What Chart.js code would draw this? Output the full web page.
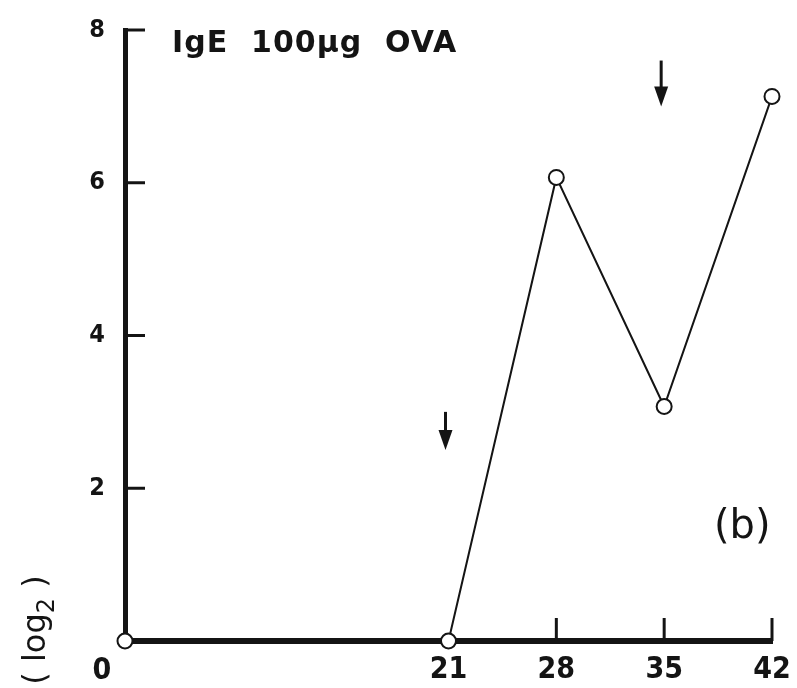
<!DOCTYPE html>
<html>
<head>
<meta charset="utf-8">
<script src="https://cdn.jsdelivr.net/npm/chart.js@4/dist/chart.umd.min.js"></script>
<style>
  html, body { margin: 0; padding: 0; background: #fff; }
  #wrap { width: 797px; height: 688px; }
</style>
</head>
<body>
<div id="wrap"><canvas id="igeChart"></canvas></div>
<script>
// days after first immunisation and IgE titre (log2)
const days = [0, 21, 28, 35, 42];
const titre = [0, 0, 6.07, 3.07, 7.13];

const xTicks = [0, 21, 28, 35, 42];
const yTicks = [0, 2, 4, 6, 8];

// booster injections marked with arrows
const boostDays = [21, 35];
const arrowTail = [3.0, 7.6];
const arrowHead = [2.5, 7.0];

const ink = '#141414';
const font = '"DejaVu Sans", sans-serif';
const condensed = '"DejaVu Sans Condensed", "DejaVu Sans", sans-serif';

// keep the plot area where the layout padding puts it
function noScalePadding(s) {
    s.paddingLeft = s.paddingRight = s.paddingTop = s.paddingBottom = 0;
}

// inward tick marks, arrows and the extra text
const decorations = {
    id: 'decorations',
    afterDatasetsDraw(chart) {
        const ctx = chart.ctx;
        const xs = chart.scales.x, ys = chart.scales.y;
        const left = chart.chartArea.left, bottom = chart.chartArea.bottom;
        ctx.save();
        ctx.strokeStyle = ink;
        ctx.fillStyle = ink;

        ctx.lineWidth = 3;
        yTicks.filter(v => v > 0).forEach(v => {
            const py = ys.getPixelForValue(v);
            ctx.beginPath();
            ctx.moveTo(left, py);
            ctx.lineTo(left + 20, py);
            ctx.stroke();
        });
        xTicks.filter(v => v > 21).forEach(v => {
            const px = xs.getPixelForValue(v);
            ctx.beginPath();
            ctx.moveTo(px, bottom);
            ctx.lineTo(px, bottom - 23);
            ctx.stroke();
        });

        boostDays.forEach((d, i) => {
            const px = xs.getPixelForValue(d) - 3;
            const y0 = ys.getPixelForValue(arrowTail[i]);
            const y1 = ys.getPixelForValue(arrowHead[i]);
            ctx.lineWidth = 3;
            ctx.beginPath();
            ctx.moveTo(px, y0);
            ctx.lineTo(px, y1 - 14);
            ctx.stroke();
            ctx.beginPath();
            ctx.moveTo(px - 7, y1 - 20);
            ctx.lineTo(px + 7, y1 - 20);
            ctx.lineTo(px, y1);
            ctx.closePath();
            ctx.fill();
        });

        // origin label sits left of the axis corner
        ctx.textBaseline = 'middle';
        ctx.textAlign = 'center';
        ctx.font = 'bold 30px ' + condensed;
        ctx.fillText('0', left - 23, 671);

        ctx.textAlign = 'left';
        ctx.font = 'bold 30px ' + font;
        ctx.letterSpacing = '1px';
        ctx.fillText('IgE  100\u00b5g  OVA', 172, 44);
        ctx.letterSpacing = '0px';

        ctx.font = '40px ' + font;
        ctx.fillText('(b)', 714, 528);

        // rotated unit label with subscript
        ctx.translate(45, 630);
        ctx.rotate(-Math.PI / 2);
        ctx.textBaseline = 'alphabetic';
        const big = '32px ' + font, small = '24px ' + font;
        ctx.font = big;
        const wA = ctx.measureText('( log').width;
        const wC = ctx.measureText(' )').width;
        ctx.font = small;
        const wB = ctx.measureText('2').width;
        let x = -(wA + wB + wC) / 2;
        ctx.font = big;
        ctx.fillText('( log', x, 0);
        x += wA;
        ctx.font = small;
        ctx.fillText('2', x, 9);
        x += wB;
        ctx.font = big;
        ctx.fillText(' )', x, 0);
        ctx.restore();
    }
};

new Chart(document.getElementById('igeChart'), {
    type: 'line',
    data: {
        datasets: [{
            data: days.map((d, i) => ({ x: d, y: titre[i] })),
            borderColor: ink,
            borderWidth: 2,
            tension: 0,
            clip: false,
            pointRadius: 7.5,
            pointBorderWidth: 2,
            pointBorderColor: ink,
            pointBackgroundColor: '#fff'
        }]
    },
    options: {
        responsive: true,
        maintainAspectRatio: false,
        animation: false,
        layout: { padding: { left: 0, top: 30, right: 25, bottom: 0 } },
        plugins: { legend: { display: false }, tooltip: { enabled: false } },
        scales: {
            x: {
                type: 'linear',
                min: 0,
                max: 42,
                afterBuildTicks: s => { s.ticks = xTicks.map(v => ({ value: v })); },
                afterFit: s => { s.height = 47; noScalePadding(s); },
                grid: { display: false },
                border: { display: true, color: ink, width: 6 },
                ticks: {
                    color: ink,
                    padding: 3,
                    maxRotation: 0,
                    font: { family: condensed, size: 30, weight: 'bold' },
                    callback: v => v === 0 ? '' : v
                }
            },
            y: {
                min: 0,
                max: 8,
                afterBuildTicks: s => { s.ticks = yTicks.map(v => ({ value: v })); },
                afterFit: s => { s.width = 125; noScalePadding(s); },
                grid: { display: false },
                border: { display: true, color: ink, width: 5 },
                ticks: {
                    color: ink,
                    padding: 12,
                    font: { family: condensed, size: 25, weight: 'bold' },
                    callback: v => v === 0 ? '' : v
                }
            }
        }
    },
    plugins: [decorations]
});
</script>
</body>
</html>
